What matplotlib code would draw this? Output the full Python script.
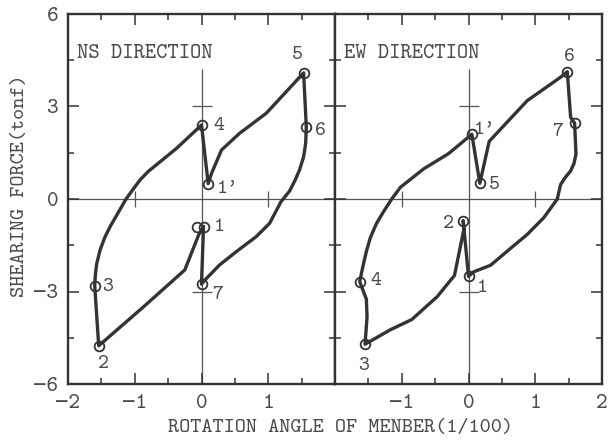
import matplotlib
matplotlib.use("Agg")
import matplotlib.pyplot as plt
from matplotlib.ticker import MultipleLocator

plt.rcParams['font.family'] = ['cmtt10', 'DejaVu Sans Mono']
plt.rcParams['axes.unicode_minus'] = True

# ---- NS direction hysteresis loop (rotation angle 1/100, shear force tonf)
ns_x = [0.03, -0.04, -0.25, -0.87, -1.54, -1.60, -1.59, -1.57, -1.52, -1.45,
        -1.37, -1.25, -1.13, -1.02, -0.92, -0.80, -0.37, 0.00, 0.10, 0.15,
        0.30, 0.57, 0.97, 1.53, 1.57, 1.56, 1.53, 1.47, 1.40, 1.32,
        1.19, 1.02, 0.82, 0.52, 0.27, 0.05, 0.00, 0.03]
ns_y = [-0.90, -1.15, -2.30, -3.50, -4.76, -2.81, -2.45, -2.10, -1.66, -1.25,
        -0.90, -0.45, 0.00, 0.33, 0.62, 0.89, 1.65, 2.40, 0.50, 0.83,
        1.59, 2.13, 2.78, 4.09, 2.33, 1.80, 1.37, 0.95, 0.60, 0.26,
        -0.09, -0.79, -1.22, -1.71, -2.14, -2.63, -2.76, -0.90]
ns_pt_x = [-0.06, 0.04, -1.54, -1.60, 0.00, 0.10, 1.53, 1.57, 0.00]
ns_pt_y = [-0.90, -0.90, -4.76, -2.81, 2.40, 0.50, 4.09, 2.33, -2.76]
ns_lbl = ["1", "2", "3", "4", "1'", "5", "6", "7"]
ns_lbl_x = [0.26, -1.47, -1.40, 0.26, 0.40, 1.44, 1.78, 0.24]
ns_lbl_y = [-0.90, -5.36, -2.85, 2.37, 0.31, 4.68, 2.22, -3.10]

# ---- EW direction hysteresis loop
ew_x = [0.00, -0.08, -0.07, -0.21, -0.47, -0.85, -1.17, -1.55, -1.52, -1.53,
        -1.63, -1.58, -1.53, -1.47, -1.38, -1.27, -1.15, -1.02, -0.67, -0.30,
        0.05, 0.17, 0.31, 0.88, 1.38, 1.48, 1.53, 1.59, 1.61, 1.58,
        1.53, 1.45, 1.38, 1.33, 1.13, 0.88, 0.63, 0.33, 0.08, 0.00]
ew_y = [-2.50, -0.70, -0.99, -2.48, -3.17, -3.91, -4.24, -4.71, -3.84, -3.25,
        -2.68, -2.17, -1.70, -1.25, -0.80, -0.40, 0.00, 0.38, 0.98, 1.47,
        2.10, 0.51, 1.87, 3.19, 3.95, 4.13, 2.65, 2.46, 1.46, 1.15,
        0.91, 0.70, 0.47, 0.00, -0.60, -1.15, -1.60, -2.15, -2.36, -2.50]
ew_pt_x = [0.00, -0.08, -1.55, -1.63, 0.05, 0.17, 1.48, 1.59]
ew_pt_y = [-2.50, -0.70, -4.71, -2.68, 2.10, 0.51, 4.13, 2.46]
ew_lbl = ["1", "2", "3", "4", "1'", "5", "6", "7"]
ew_lbl_x = [0.21, -0.30, -1.57, -1.39, 0.24, 0.39, 1.51, 1.33]
ew_lbl_y = [-2.90, -0.80, -5.40, -2.66, 2.25, 0.45, 4.60, 2.16]

x_ticks = [-2, -1, 0, 1, 2]
ns_xtick_labels = ["\u22122", "\u22121", "0", "1", ""]
ew_xtick_labels = ["", "\u22121", "0", "1", "2"]
y_ticks = [-6, -3, 0, 3, 6]
y_tick_labels = ["\u22126", "\u22123", "0", "3", "6"]
zero_line_xticks = [-1, 1]
zero_line_yticks = [-3, 3]

INK = "#333333"
TXT = "#4a4a4a"

fig = plt.figure(figsize=(6.12, 4.40), dpi=100)
ax_l = fig.add_axes([68 / 612, 56 / 440, 267 / 612, 370 / 440])
ax_r = fig.add_axes([335 / 612, 56 / 440, 267 / 612, 370 / 440])

panels = [
    (ax_l, ns_x, ns_y, ns_pt_x, ns_pt_y, ns_lbl, ns_lbl_x, ns_lbl_y,
     "NS DIRECTION", ns_xtick_labels),
    (ax_r, ew_x, ew_y, ew_pt_x, ew_pt_y, ew_lbl, ew_lbl_x, ew_lbl_y,
     "EW DIRECTION", ew_xtick_labels),
]

for (ax, xs, ys, px, py, lbl, lx, ly, title, xtl) in panels:
    ax.set_xlim(-2, 2)
    ax.set_ylim(-6, 6)
    for s in ax.spines.values():
        s.set_linewidth(1.7)
        s.set_color(INK)

    # reference cross through the origin
    ax.axhline(0, color="#555555", lw=0.9, zorder=1)
    ax.vlines(0, -6, 4.2, color="#555555", lw=0.9, zorder=1)
    ax.plot(zero_line_xticks, [0] * len(zero_line_xticks), ls="none",
            marker="|", ms=11, mew=0.9, color="#555555", zorder=1)
    ax.plot([0] * len(zero_line_yticks), zero_line_yticks, ls="none",
            marker="_", ms=14, mew=0.9, color="#555555", zorder=1)

    ax.plot(xs, ys, color=INK, lw=2.4, solid_joinstyle="round",
            solid_capstyle="round", zorder=3)
    ax.plot(px, py, ls="none", marker="o", ms=7, mfc="none", mec=INK,
            mew=1.3, zorder=4)
    for t, x, y in zip(lbl, lx, ly):
        ax.text(x, y, t, fontsize=15, color=TXT, ha="center", va="center")

    ax.text(-1.86, 4.72, title, fontsize=15.5, color=TXT, ha="left",
            va="center")

    ax.set_xticks(x_ticks)
    ax.set_xticklabels(xtl)
    ax.xaxis.set_minor_locator(MultipleLocator(0.5))
    ax.set_yticks(y_ticks)
    ax.yaxis.set_minor_locator(MultipleLocator(1.5))
    ax.tick_params(which="both", direction="in", top=True, right=True,
                   color=INK, width=1.1, labelsize=16, labelcolor=TXT)
    ax.tick_params(which="major", length=8, pad=7)
    ax.tick_params(which="minor", length=4)

ax_l.set_yticklabels(y_tick_labels)
ax_r.tick_params(labelleft=False)

fig.text(340 / 612, 1 - 428 / 440, "ROTATION ANGLE OF MENBER(1/100)",
         fontsize=15.3, color=TXT, ha="center", va="center")
fig.text(20 / 612, 1 - 186 / 440, "SHEARING FORCE(tonf)", fontsize=15.3,
         color=TXT, ha="center", va="center", rotation=90)

fig.savefig("out.png", dpi=100, facecolor="white")
